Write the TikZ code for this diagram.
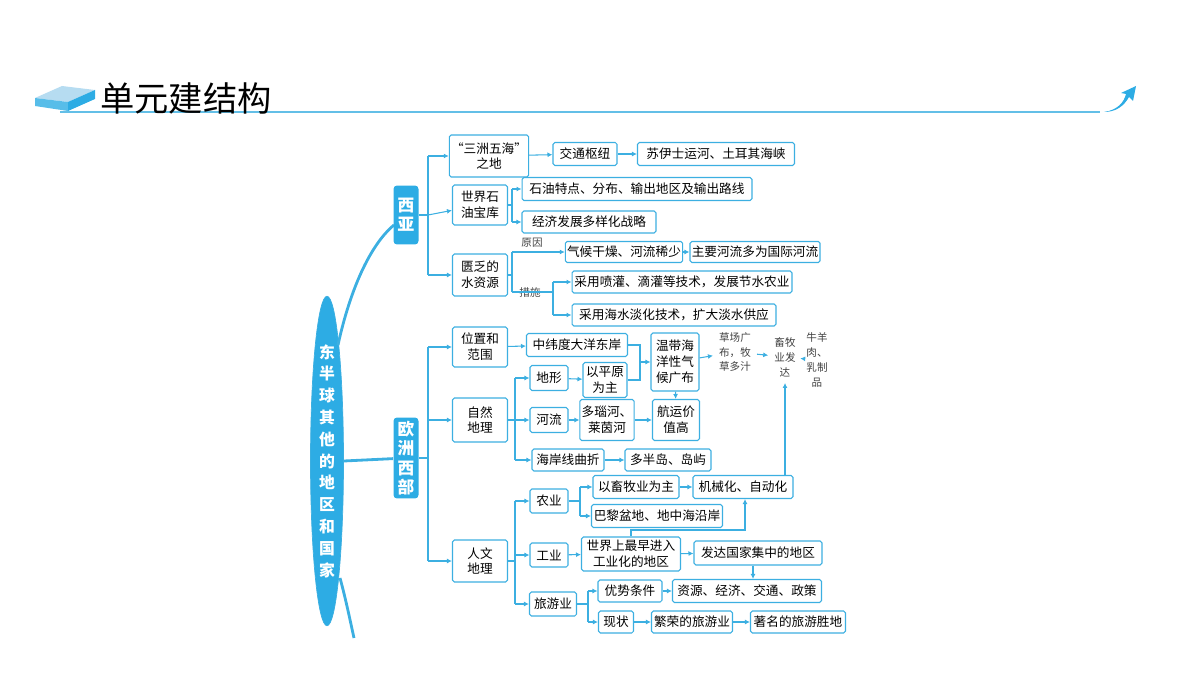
\documentclass[tikz,border=0pt]{standalone}
\usepackage{fontspec}
\setmainfont{Noto Sans CJK SC}
\usepackage{xcolor}
\usepackage{tikz}
\definecolor{lineblue}{RGB}{60, 175, 225}
\definecolor{fillblue}{RGB}{45, 172, 228}
\definecolor{slab}{RGB}{150, 205, 235}
\usetikzlibrary{shapes, arrows, arrows.meta, positioning, calc}

\begin{document}
\begin{tikzpicture}[
    x=0.02cm, y=-0.02cm,
    box/.style={rectangle, draw=lineblue, rounded corners=1pt, line width=0.6pt, fill=white, align=center, font=\fontsize{7.2}{9}\selectfont, inner sep=1pt},
    head/.style={rectangle, fill=fillblue, rounded corners=2pt, text=white, align=center, font=\fontsize{9.5}{11}\selectfont\bfseries, inner sep=1pt},
    note/.style={align=center, font=\fontsize{6}{8.5}\selectfont, text=black!75},
    line/.style={draw=lineblue, line width=0.6pt},
    arrow/.style={line, -{Latex[length=1mm, width=1mm]}}
]
    \useasboundingbox (0,0) rectangle (1200,675);

    % Header
    \fill[slab!70] (35,98) -- (62,86) -- (95,90) -- (68,102) -- cycle;
    \fill[fillblue!80] (35,98) -- (68,102) -- (68,111) -- (35,106) -- cycle;
    \fill[fillblue] (68,102) -- (95,90) -- (95,99) -- (68,111) -- cycle;
    \draw[lineblue!80, line width=0.6pt] (60,112) -- (1100,112);
    \node[font=\fontsize{19.5}{22}\selectfont, anchor=west, inner sep=0pt] (title) at (100,98) {单元建结构};
    \fill[fillblue] (1104,112) .. controls (1118,110) and (1124,102) .. (1126,94)
        -- (1121,93) -- (1136,86) -- (1133,101) -- (1129,97)
        .. controls (1124,106) and (1116,112) .. (1104,112) -- cycle;

    % Root
    \node[ellipse, fill=fillblue, draw=lineblue, minimum width=0.66cm, minimum height=4.96cm, text=white, font=\fontsize{9}{12.4}\selectfont\bfseries, align=center, inner sep=0pt] (root) at (327,461) {东\\半\\球\\其\\他\\的\\地\\区\\和\\国\\家};
    \draw[lineblue, line width=1.6pt] (338,345) .. controls (350,290) and (370,245) .. (394,225);
    \draw[lineblue, line width=1.6pt] (340,578) .. controls (346,600) and (350,620) .. (354,638);

    % West Asia
    \node[head, minimum width=0.5cm, minimum height=1.18cm] (xiya) at (406,215) {西\\亚};
    \node[box, minimum width=1.44cm, minimum height=0.84cm] (sanzhou) at (489,156) {“三洲五海”\\之地};
    \node[box, minimum width=1.28cm, minimum height=0.46cm] (jiaotong) at (585,154) {交通枢纽};
    \node[box, minimum width=3.14cm, minimum height=0.46cm] (suyishi) at (716,154) {苏伊士运河、土耳其海峡};
    \node[box, minimum width=1.1cm, minimum height=0.8cm] (shiyou) at (480,205) {世界石\\油宝库};
    \node[box, minimum width=4.6cm, minimum height=0.46cm] (tedian) at (637,189) {石油特点、分布、输出地区及输出路线};
    \node[box, minimum width=2.68cm, minimum height=0.44cm] (jingji) at (589,222) {经济发展多样化战略};
    \node[box, minimum width=1.1cm, minimum height=0.84cm] (shuiziyuan) at (480,275) {匮乏的\\水资源};
    \node[box, minimum width=2.1cm, minimum height=0.42cm] (ganzao) at (624,252) {气候干燥、河流稀少};
    \node[box, minimum width=2.6cm, minimum height=0.42cm] (guoji) at (755,252) {主要河流多为国际河流};
    \node[box, minimum width=4.4cm, minimum height=0.44cm] (penguan) at (682,282) {采用喷灌、滴灌等技术，发展节水农业};
    \node[box, minimum width=4.08cm, minimum height=0.44cm] (danhua) at (674,315) {采用海水淡化技术，扩大淡水供应};
    \node[note] (yuanyin) at (532,243) {原因};
    \node[note] (cuoshi) at (530,292) {措施};

    \coordinate (xyj) at (428,215);
    \draw[line] (xiya) -- (xyj);
    \draw[line] (xyj |- sanzhou) -- (xyj |- shuiziyuan);
    \draw[arrow] (xyj |- sanzhou) -- (sanzhou);
    \draw[arrow] (xyj) -- (shiyou);
    \draw[arrow] (xyj |- shuiziyuan) -- (shuiziyuan);
    \draw[arrow] (sanzhou) -- (jiaotong);
    \draw[arrow] (jiaotong) -- (suyishi);
    \coordinate (syj) at (512,205);
    \draw[line] (shiyou) -- (syj);
    \draw[line] (syj |- tedian) -- (syj |- jingji);
    \draw[arrow] (syj |- tedian) -- (tedian);
    \draw[arrow] (syj |- jingji) -- (jingji);
    \coordinate (szj) at (512,275);
    \draw[line] (shuiziyuan) -- (szj);
    \draw[line] (szj |- ganzao) -- (szj |- cuoshi);
    \draw[arrow] (szj |- ganzao) -- (ganzao);
    \draw[arrow] (ganzao) -- (guoji);
    \coordinate (csj) at (553,292);
    \draw[line] (szj |- cuoshi) -- (csj);
    \draw[line] (csj |- penguan) -- (csj |- danhua);
    \draw[arrow] (csj |- penguan) -- (penguan);
    \draw[arrow] (csj |- danhua) -- (danhua);

    % Western Europe
    \node[head, minimum width=0.5cm, minimum height=1.62cm] (ouzhou) at (406,458) {欧\\洲\\西\\部};
    \draw[lineblue, line width=1.6pt] (root.east) -- (ouzhou);
    \node[box, minimum width=1.1cm, minimum height=0.8cm] (weizhi) at (480,347) {位置和\\范围};
    \node[box, minimum width=1.1cm, minimum height=0.88cm] (ziran) at (480,420) {自然\\地理};
    \node[box, minimum width=1.1cm, minimum height=0.84cm] (renwen) at (480,561) {人文\\地理};
    \node[box, minimum width=2.02cm, minimum height=0.46cm] (dayang) at (577,345) {中纬度大洋东岸};
    \node[box, minimum width=0.76cm, minimum height=0.5cm] (dixing) at (549,378) {地形};
    \node[box, minimum width=0.88cm, minimum height=0.7cm] (pingyuan) at (605,380) {以平原\\为主};
    \node[box, minimum width=0.96cm, minimum height=1.16cm] (qihou) at (675,362) {温带海\\洋性气\\候广布};
    \node[note] (caochang) at (735,352) {草场广\\布，牧\\草多汁};
    \node[note] (xumu) at (785,357) {畜牧\\业发\\达};
    \node[note] (niuyang) at (817,360) {牛羊\\肉、\\乳制\\品};
    \node[box, minimum width=0.76cm, minimum height=0.5cm] (heliu) at (549,420) {河流};
    \node[box, minimum width=0.96cm, minimum height=0.82cm] (duonao) at (607,420) {多瑙河、\\莱茵河};
    \node[box, minimum width=0.94cm, minimum height=0.82cm] (hangyun) at (676,420) {航运价\\值高};
    \node[box, minimum width=1.44cm, minimum height=0.44cm] (haian) at (568,460) {海岸线曲折};
    \node[box, minimum width=1.72cm, minimum height=0.44cm] (bandao) at (668,460) {多半岛、岛屿};
    \node[box, minimum width=0.76cm, minimum height=0.48cm] (nongye) at (549,501) {农业};
    \node[box, minimum width=1.72cm, minimum height=0.46cm] (xumuye) at (636,487) {以畜牧业为主};
    \node[box, minimum width=2cm, minimum height=0.46cm] (jixie) at (743,487) {机械化、自动化};
    \node[box, minimum width=2.62cm, minimum height=0.46cm] (bali) at (657,516) {巴黎盆地、地中海沿岸};
    \node[box, minimum width=0.76cm, minimum height=0.48cm] (gongye) at (549,555) {工业};
    \node[box, minimum width=1.98cm, minimum height=0.68cm] (zuizao) at (631,554) {世界上最早进入\\工业化的地区};
    \node[box, minimum width=2.56cm, minimum height=0.48cm] (fada) at (758,553) {发达国家集中的地区};
    \node[box, minimum width=0.94cm, minimum height=0.48cm] (lvyou) at (553,604) {旅游业};
    \node[box, minimum width=1.28cm, minimum height=0.44cm] (youshi) at (630,591) {优势条件};
    \node[box, minimum width=2.98cm, minimum height=0.46cm] (ziyuan) at (747,591) {资源、经济、交通、政策};
    \node[box, minimum width=0.7cm, minimum height=0.44cm] (xianzhuang) at (616,622) {现状};
    \node[box, minimum width=1.62cm, minimum height=0.44cm] (fanrong) at (692,622) {繁荣的旅游业};
    \node[box, minimum width=1.9cm, minimum height=0.44cm] (shengdi) at (798,622) {著名的旅游胜地};

    \coordinate (ozj) at (428,458);
    \draw[line] (ouzhou) -- (ozj);
    \draw[line] (ozj |- weizhi) -- (ozj |- renwen);
    \draw[arrow] (ozj |- weizhi) -- (weizhi);
    \draw[arrow] (ozj |- ziran) -- (ziran);
    \draw[arrow] (ozj |- renwen) -- (renwen);
    \draw[arrow] (weizhi) -- (dayang);
    \coordinate (zrj) at (515,420);
    \draw[line] (ziran) -- (zrj);
    \draw[line] (zrj |- dixing) -- (zrj |- haian);
    \draw[arrow] (zrj |- dixing) -- (dixing);
    \draw[arrow] (zrj) -- (heliu);
    \draw[arrow] (zrj |- haian) -- (haian);
    \draw[arrow] (dixing) -- (pingyuan);
    \coordinate (qhj) at (640,362);
    \draw[line] (dayang.east) -| (qhj);
    \draw[line] (pingyuan.east) -| (qhj);
    \draw[arrow] (qhj) -- (qihou);
    \draw[arrow] (qihou) -- (caochang);
    \draw[arrow] (caochang) -- (xumu);
    \draw[arrow] (xumu) -- (niuyang);
    \draw[arrow] (qihou) -- (hangyun);
    \draw[arrow] (heliu) -- (duonao);
    \draw[arrow] (duonao) -- (hangyun);
    \draw[arrow] (haian) -- (bandao);
    \coordinate (rwj) at (515,561);
    \draw[line] (renwen) -- (rwj);
    \draw[line] (rwj |- nongye) -- (rwj |- lvyou);
    \draw[arrow] (rwj |- nongye) -- (nongye);
    \draw[arrow] (rwj |- gongye) -- (gongye);
    \draw[arrow] (rwj |- lvyou) -- (lvyou);
    \coordinate (nyj) at (580,501);
    \draw[line] (nongye) -- (nyj);
    \draw[line] (nyj |- xumuye) -- (nyj |- bali);
    \draw[arrow] (nyj |- xumuye) -- (xumuye);
    \draw[arrow] (nyj |- bali) -- (bali);
    \draw[arrow] (xumuye) -- (jixie);
    \draw[arrow] (jixie.north -| xumu) -- (xumu);
    \coordinate (gyj) at (745,530);
    \draw[arrow] (zuizao.north) |- (gyj) -- (gyj |- jixie.south);
    \draw[arrow] (gongye) -- (zuizao);
    \draw[arrow] (zuizao) -- (fada);
    \coordinate (fdj) at (753,553);
    \draw[arrow] (fdj |- fada.south) -- (fdj |- ziyuan.north);
    \coordinate (lyj) at (588,604);
    \draw[line] (lvyou) -- (lyj);
    \draw[line] (lyj |- youshi) -- (lyj |- xianzhuang);
    \draw[arrow] (lyj |- youshi) -- (youshi);
    \draw[arrow] (lyj |- xianzhuang) -- (xianzhuang);
    \draw[arrow] (youshi) -- (ziyuan);
    \draw[arrow] (xianzhuang) -- (fanrong);
    \draw[arrow] (fanrong) -- (shengdi);
\end{tikzpicture}
\end{document}
